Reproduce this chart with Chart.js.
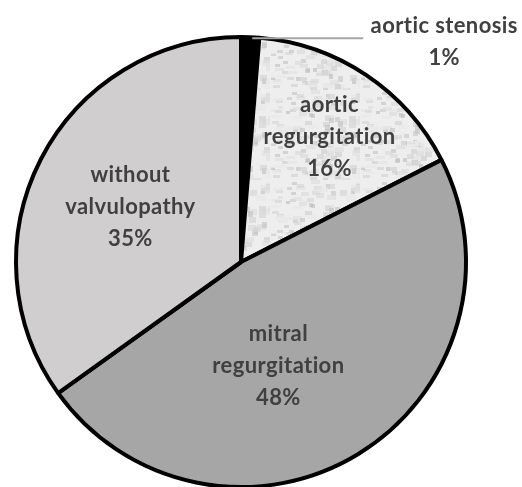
<!DOCTYPE html>
<html>
<head>
<meta charset="utf-8">
<script src="https://cdn.jsdelivr.net/npm/chart.js@4/dist/chart.umd.min.js"></script>
<style>
  html, body { margin: 0; padding: 0; background: #fff; overflow: hidden; }
  #wrap { width: 522px; height: 500px; }
</style>
</head>
<body>
<div id="wrap"><canvas id="c" width="522" height="500"></canvas></div>
<script>
const categories = ['aortic stenosis', 'aortic regurgitation', 'mitral regurgitation', 'without valvulopathy']
const values = [1.3, 16.2, 47.6, 34.9]
const percentLabels = ['1%', '16%', '48%', '35%']
const labelLines = [['aortic stenosis'], ['aortic', 'regurgitation'], ['mitral', 'regurgitation'], ['without', 'valvulopathy']]

// light marble-like texture for aortic regurgitation
function makeTexture() {
    const t = document.createElement('canvas')
    t.width = 90; t.height = 90
    const g = t.getContext('2d')
    g.fillStyle = '#eeeeee'
    g.fillRect(0, 0, 90, 90)
    for (let i = 0; i < 160; i++) {
        const h = Math.abs(Math.sin(i * 12.9898 + 78.233) * 43758.5453) % 1
        const k = Math.abs(Math.sin(i * 39.3468 + 11.135) * 24634.6345) % 1
        const m = Math.abs(Math.sin(i * 73.156 + 52.235) * 12345.6789) % 1
        const shade = Math.round(185 + m * 55)
        g.fillStyle = 'rgba(' + shade + ',' + shade + ',' + shade + ',0.6)'
        g.fillRect(Math.floor(h * 90), Math.floor(k * 90), 4 + Math.floor(m * 8), 3 + Math.floor(h * 4))
    }
    return g.createPattern(t, 'repeat')
}

const ctx = document.getElementById('c')
const colors = ['#000000', makeTexture(), '#a6a6a6', '#d0cece']

// label placement: fraction of radius and angle shift (deg) from slice middle
const labelPlace = [null, {r: 0.68, da: 1.5}, {r: 0.49, da: 11.5}, {r: 0.55, da: -0.5}]

const labelPlugin = {
    id: 'sliceLabels',
    afterDatasetsDraw(chart) {
        const c = chart.ctx
        const arcs = chart.getDatasetMeta(0).data
        c.save()
        c.font = 'bold 22px Lato'
        c.letterSpacing = '0.4px'
        c.fillStyle = '#404040'
        c.textAlign = 'center'
        c.textBaseline = 'middle'
        const lh = 32
        arcs.forEach((arc, i) => {
            const p = arc.getProps(['x', 'y', 'startAngle', 'endAngle', 'outerRadius'], true)
            const lines = labelLines[i].concat([percentLabels[i]])
            if (i === 0) {
                // outside label with leader line
                const ang = (p.startAngle + p.endAngle) / 2
                const sx = p.x + Math.cos(ang) * (p.outerRadius + 1) + 2
                const sy = p.y + Math.sin(ang) * (p.outerRadius + 1) + 2
                c.strokeStyle = '#a6a6a6'
                c.lineWidth = 2
                c.beginPath()
                c.moveTo(sx, sy)
                c.lineTo(sx + 111, sy)
                c.stroke()
                const tx = sx + 192, ty = sy - 12
                lines.forEach((l, j) => c.fillText(l, tx, ty + j * lh))
                return
            }
            const pl = labelPlace[i]
            const ang = (p.startAngle + p.endAngle) / 2 + pl.da * Math.PI / 180
            const cx = p.x + Math.cos(ang) * p.outerRadius * pl.r
            const cy = p.y + Math.sin(ang) * p.outerRadius * pl.r
            const y0 = cy - (lines.length - 1) * lh / 2
            lines.forEach((l, j) => c.fillText(l, cx, y0 + j * lh))
        })
        c.restore()
    }
}

new Chart(ctx, {
    type: 'pie',
    data: {
        labels: categories,
        datasets: [{
            data: values,
            backgroundColor: colors,
            borderColor: '#000000',
            borderWidth: 4
        }]
    },
    options: {
        responsive: false,
        animation: false,
        layout: {padding: {top: 35, bottom: 11, left: 14, right: 54}},
        plugins: {legend: {display: false}, tooltip: {enabled: false}}
    },
    plugins: [labelPlugin]
})
</script>
</body>
</html>
